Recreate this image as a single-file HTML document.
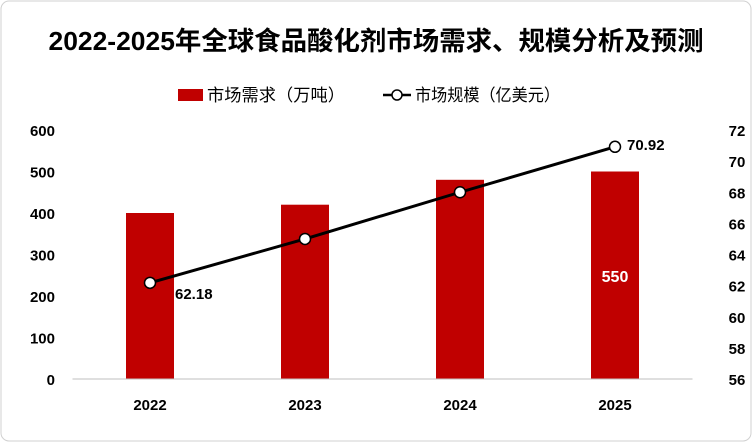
<!DOCTYPE html>
<html><head><meta charset="utf-8"><style>
body{margin:0;background:#fff;font-family:"Liberation Sans","Noto Sans CJK SC",sans-serif}
svg text{font-family:"Liberation Sans","Noto Sans CJK SC",sans-serif}
</style></head><body>
<svg width="752" height="442" viewBox="0 0 752 442" xmlns="http://www.w3.org/2000/svg">
<rect x="1" y="1" width="750" height="440" rx="8" fill="#fff" stroke="#d0d0d0"/>
<text x="376" y="50" text-anchor="middle" font-size="26" font-weight="bold" fill="#000" textLength="655" lengthAdjust="spacingAndGlyphs">2022-2025年全球食品酸化剂市场需求、规模分析及预测</text>
<g>
<rect x="178" y="89" width="25" height="12" fill="#c00000"/>
<text x="207" y="101" font-size="17" textLength="138" lengthAdjust="spacingAndGlyphs">市场需求（万吨）</text>
<line x1="383" y1="95" x2="411" y2="95" stroke="#000" stroke-width="2.5"/>
<circle cx="397" cy="95" r="5" fill="#fff" stroke="#000" stroke-width="1.5"/>
<text x="415" y="101" font-size="17" textLength="145" lengthAdjust="spacingAndGlyphs">市场规模（亿美元）</text>
</g>
<g id="plot"></g>
</svg>
<script>
const categories=["2022","2023","2024","2025"];
const demand=[400,420,480,500];
const scale=[62.18,65,68,70.92];
const leftTicks=[0,100,200,300,400,500,600];
const rightTicks=[56,58,60,62,64,66,68,70,72];
const barLabels=["","","","550"];
const lineLabels=["62.18","","","70.92"];
const NS="http://www.w3.org/2000/svg";
const g=document.getElementById('plot');
const x0=72.5,x1=692.5,yB=379,yT=130;
const yL=v=>yB-(v/600)*(yB-yT);
const yR=v=>yB-((v-56)/16)*(yB-yT);
const step=(x1-x0)/categories.length;
const xC=i=>x0+step*(i+0.5);
function mk(t,a,txt){const e=document.createElementNS(NS,t);for(const k in a)e.setAttribute(k,a[k]);if(txt!==undefined)e.textContent=txt;g.appendChild(e);return e;}
leftTicks.forEach(v=>{const e=mk('text',{x:55,y:yL(v)+6,'text-anchor':'end','font-size':15,'font-weight':'bold'},v);

});
rightTicks.forEach(v=>{const e=mk('text',{x:737,y:yR(v)+6,'text-anchor':'middle','font-size':15,'font-weight':'bold'},v);

});
categories.forEach((c,i)=>{
const b=mk('rect',{x:xC(i)-24,y:yL(demand[i]),width:48,height:yB-yL(demand[i]),fill:'#c00000'});


const t=mk('text',{x:xC(i),y:410,'text-anchor':'middle','font-size':15,'font-weight':'bold'},c);


if(barLabels[i]){const l=mk('text',{x:xC(i),y:282,'text-anchor':'middle','font-size':16,'font-weight':'bold',fill:'#fff'},barLabels[i]);

}
});
const ax=mk('line',{x1:x0,y1:yB,x2:x1,y2:yB,stroke:'#bfbfbf'});


const pl=mk('polyline',{points:scale.map((v,i)=>xC(i)+','+yR(v)).join(' '),fill:'none',stroke:'#000','stroke-width':3});


scale.forEach((v,i)=>{
const p=mk('circle',{cx:xC(i),cy:yR(v),r:5.5,fill:'#fff',stroke:'#000','stroke-width':1.5});


if(lineLabels[i]){const l=mk('text',{x:xC(i)+(i==0?25:12),y:yR(v)+(i==3?3:16),'font-size':15,'font-weight':'bold'},lineLabels[i]);

}
});
</script>
</body></html>
